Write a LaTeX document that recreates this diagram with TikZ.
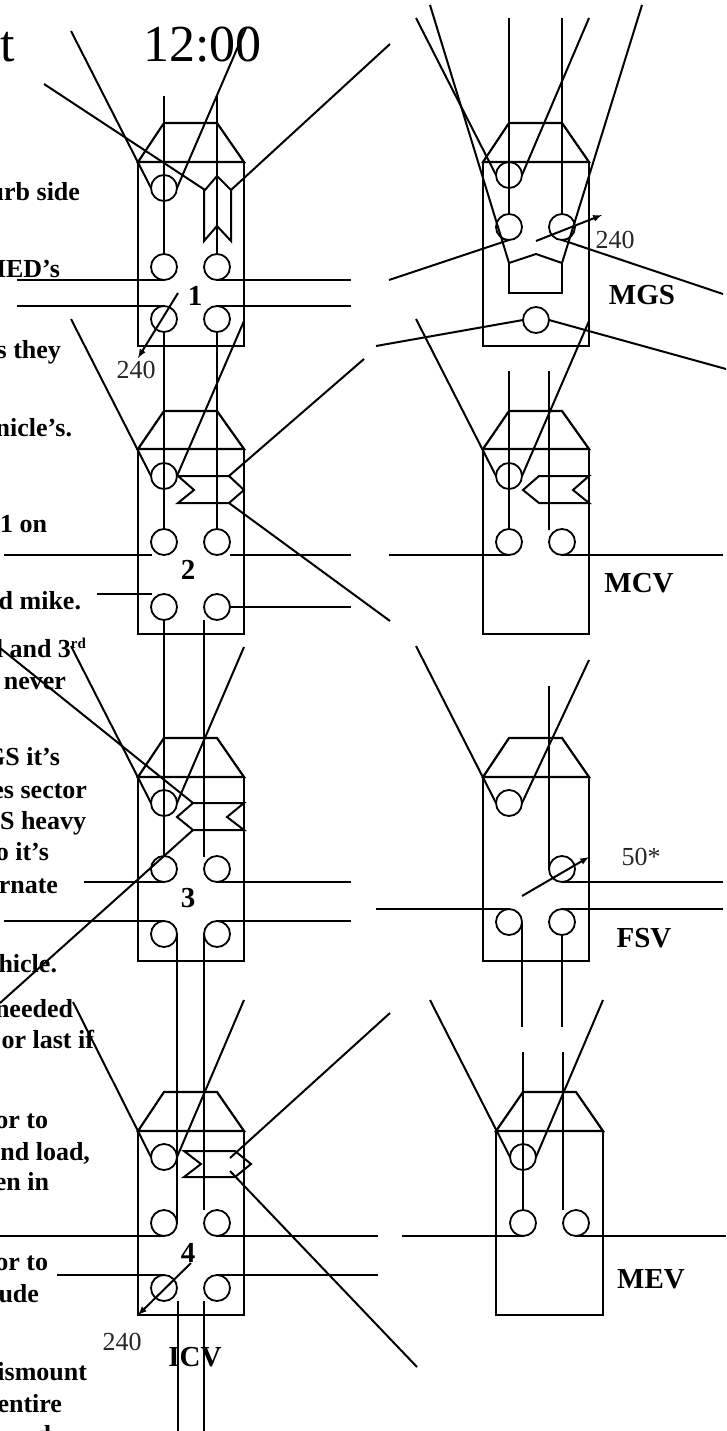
\documentclass[tikz,border=0pt]{standalone}
\usepackage{fontspec}
\setmainfont{Liberation Serif}
\usetikzlibrary{arrows}
\tikzset{
  port/.style={draw, circle, inner sep=0pt, outer sep=0pt, minimum size=26pt, line width=1.8pt},
  hull/.style={line width=2.2pt, line join=miter},
  shot/.style={-latex, line width=2pt},
  notetext/.style={anchor=base east, inner sep=0pt, font=\fontsize{26}{26}\selectfont\bfseries},
  tagtext/.style={inner sep=0pt, font=\fontsize{29}{29}\selectfont\bfseries},
  rangetext/.style={inner sep=0pt, text=black!85, font=\fontsize{26}{26}\selectfont},
  headtext/.style={anchor=base, inner sep=0pt, font=\fontsize{52}{52}\selectfont}
}
\begin{document}
\begin{tikzpicture}[x=1pt,y=-1pt,line width=2pt]
	\useasboundingbox (0,0) rectangle (726,1431);
	\clip (0,0) rectangle (726,1431);
	\node[headtext, anchor=base east] (headleft) at (16,62) {at};
	\node[headtext, anchor=base west] (headtime) at (142,62) {12:00};
	\node[notetext] (note1) at (81,201) {urb side};
	\node[notetext] (note2) at (61,277) {MED’s};
	\node[notetext] (note3) at (62,358) {s they};
	\node[notetext] (note4) at (73,436) {nicle’s.};
	\node[notetext] (note5) at (48,532) {1 on};
	\node[notetext] (note6) at (82,609) {d mike.};
	\node[notetext] (note7) at (87,657) {d and 3\raisebox{9pt}{\fontsize{15}{15}\selectfont rd}};
	\node[notetext] (note8) at (67,689) {never};
	\node[notetext] (note9) at (61,765) {GS it’s};
	\node[notetext] (note10) at (88,798) {es sector};
	\node[notetext] (note11) at (87,829) {GS heavy};
	\node[notetext] (note12) at (50,860) {o it’s};
	\node[notetext] (note13) at (59,893) {rnate};
	\node[notetext] (note14) at (58,972) {vehicle.};
	\node[notetext] (note15) at (74,1017) {needed};
	\node[notetext] (note16) at (95,1048) {or last if};
	\node[notetext] (note17) at (49,1128) {or to};
	\node[notetext] (note18) at (91,1160) {nd load,};
	\node[notetext] (note19) at (50,1190) {en in};
	\node[notetext] (note20) at (49,1270) {or to};
	\node[notetext] (note21) at (40,1302) {ude};
	\node[notetext] (note22) at (88,1380) {ismount};
	\node[notetext] (note23) at (63,1412) {entire};
	\node[notetext] (note24) at (52,1443) {d};

	\draw[hull] (138,162) -- (164,123) -- (217,123) -- (244,162) -- cycle;
	\draw[hull] (138,162) rectangle (244,346);
	\node[port] (c1a) at (164,188) {};
	\node[port] (c1b) at (164,267) {};
	\node[port] (c1c) at (217,267) {};
	\node[port] (c1d) at (164,319) {};
	\node[port] (c1e) at (217,319) {};
	\draw (164,96) -- (c1b.north);
	\draw (217,96) -- (c1c.north);
	\draw (71,31) -- (c1a.west);
	\draw (246,28) -- (c1a.east);
	\draw (44,84) -- (205,190) -- (217,176) -- (231,190) -- (231,241) -- (217,226) -- (204,241) -- (204,190);
	\draw (231,190) -- (390,44);
	\draw (17,280) -- (c1b.south);
	\draw (c1c.south) -- (351,280);
	\draw (17,306) -- (c1d.north);
	\draw (c1e.north) -- (351,306);
	\draw[shot] (178,293) -- (138,358);
	\node[rangetext] (range1) at (136,370) {240};
	\node[tagtext] (num1) at (195,296) {1};

	\draw[hull] (138,449) -- (164,411) -- (217,411) -- (244,449) -- cycle;
	\draw[hull] (138,449) rectangle (244,634);
	\node[port] (c2a) at (164,476) {};
	\node[port] (c2b) at (164,542) {};
	\node[port] (c2c) at (217,542) {};
	\node[port] (c2d) at (164,607) {};
	\node[port] (c2e) at (217,607) {};
	\draw (c1d.south) -- (c2b.north);
	\draw (c1e.south) -- (c2c.north);
	\draw (71,319) -- (c2a.west);
	\draw (244,321) -- (c2a.east);
	\draw (178,476) -- (229,476) -- (244,490) -- (229,503) -- (178,503) -- (194,490) -- cycle;
	\draw (229,476) -- (364,359);
	\draw (229,503) -- (390,621);
	\draw (4,555) -- (152,555);
	\draw (230,555) -- (351,555);
	\draw (97,594) -- (152,594);
	\draw (c2e.east) -- (351,607);
	\node[tagtext] (num2) at (188,570) {2};

	\draw[hull] (138,777) -- (164,738) -- (217,738) -- (244,777) -- cycle;
	\draw[hull] (138,777) rectangle (244,961);
	\node[port] (c3a) at (164,803) {};
	\node[port] (c3b) at (164,869) {};
	\node[port] (c3c) at (217,869) {};
	\node[port] (c3d) at (164,934) {};
	\node[port] (c3e) at (217,934) {};
	\draw (c2d.south) -- (c3b.north);
	\draw (204,620) -- (204,857);
	\draw (71,646) -- (c3a.west);
	\draw (244,647) -- (c3a.east);
	\draw (193,803) -- (244,803) -- (227,817) -- (244,830) -- (193,830) -- (177,817) -- cycle;
	\draw (0,648) -- (193,803);
	\draw (193,830) -- (0,1003);
	\draw (84,882) -- (c3b.south);
	\draw (c3c.south) -- (351,882);
	\draw (4,921) -- (c3d.north);
	\draw (c3e.north) -- (351,921);
	\node[tagtext] (num3) at (188,898) {3};

	\draw[hull] (138,1131) -- (164,1092) -- (217,1092) -- (244,1131) -- cycle;
	\draw[hull] (138,1131) rectangle (244,1315);
	\node[port] (c4a) at (164,1157) {};
	\node[port] (c4b) at (164,1223) {};
	\node[port] (c4c) at (217,1223) {};
	\node[port] (c4d) at (164,1288) {};
	\node[port] (c4e) at (217,1288) {};
	\draw (c3d.east) -- (c4b.east);
	\draw (c3e.west) -- (204,1210);
	\draw (73,1002) -- (c4a.west);
	\draw (244,1000) -- (c4a.east);
	\draw (235,1151) -- (184,1151) -- (201,1164) -- (184,1177) -- (235,1177) -- (251,1164) -- cycle;
	\draw (230,1158) -- (390,1013);
	\draw (230,1171) -- (417,1367);
	\draw (0,1236) -- (c4b.south);
	\draw (c4c.south) -- (378,1236);
	\draw (57,1275) -- (c4d.north);
	\draw (c4e.north) -- (378,1275);
	\draw[shot] (191,1263) -- (138,1315);
	\draw (178,1301) -- (178,1431);
	\draw (204,1301) -- (204,1431);
	\node[rangetext] (range4) at (122,1342) {240};
	\node[tagtext] (num4) at (188,1253) {4};
	\node[tagtext] (icv) at (195,1357) {ICV};

	\draw[hull] (483,162) -- (509,123) -- (562,123) -- (589,162) -- cycle;
	\draw[hull] (483,162) rectangle (589,346);
	\node[port] (g1) at (509,175) {};
	\node[port] (g2) at (509,227) {};
	\node[port] (g3) at (562,227) {};
	\node[port] (g4) at (536,320) {};
	\draw (509,18) -- (g2.north);
	\draw (562,18) -- (562,214);
	\draw (416,18) -- (g1.west);
	\draw (589,18) -- (g1.east);
	\draw (430,5) -- (509,263) -- (536,254) -- (562,263) -- (642,5);
	\draw (509,263) -- (509,293) -- (562,293) -- (562,263);
	\draw (389,280) -- (g2.south);
	\draw (g3.south) -- (723,294);
	\draw[shot] (536,241) -- (602,215);
	\draw (376,346) -- (g4.west);
	\draw (g4.east) -- (726,369);
	\node[rangetext] (range5) at (615,240) {240};
	\node[tagtext] (mgs) at (642,295) {MGS};

	\draw[hull] (483,449) -- (509,411) -- (562,411) -- (589,449) -- cycle;
	\draw[hull] (483,449) rectangle (589,634);
	\node[port] (m1) at (509,476) {};
	\node[port] (m2) at (509,542) {};
	\node[port] (m3) at (562,542) {};
	\draw (509,371) -- (m2.north);
	\draw (549,371) -- (549,530);
	\draw (416,319) -- (m1.west);
	\draw (589,321) -- (m1.east);
	\draw (523,490) -- (539,476) -- (589,476) -- (573,490) -- (589,503) -- (539,503) -- cycle;
	\draw (389,555) -- (m2.south);
	\draw (m3.south) -- (723,555);
	\node[tagtext] (mcv) at (639,583) {MCV};

	\draw[hull] (483,777) -- (509,738) -- (562,738) -- (589,777) -- cycle;
	\draw[hull] (483,777) rectangle (589,961);
	\node[port] (f1) at (509,803) {};
	\node[port] (f2) at (562,869) {};
	\node[port] (f3) at (509,922) {};
	\node[port] (f4) at (562,922) {};
	\draw (549,686) -- (f2.west);
	\draw (416,646) -- (f1.west);
	\draw (589,660) -- (f1.east);
	\draw (f2.south) -- (723,882);
	\draw[shot] (522,896) -- (589,857);
	\draw (376,909) -- (f3.north);
	\draw (f4.north) -- (723,909);
	\draw (f3.east) -- (522,1027);
	\draw (f4.south) -- (562,1027);
	\node[rangetext] (range6) at (641,857) {50*};
	\node[tagtext] (fsv) at (644,938) {FSV};

	\draw[hull] (496,1131) -- (523,1092) -- (576,1092) -- (603,1131) -- cycle;
	\draw[hull] (496,1131) rectangle (603,1315);
	\node[port] (e1) at (523,1157) {};
	\node[port] (e2) at (523,1223) {};
	\node[port] (e3) at (576,1223) {};
	\draw (523,1052) -- (e2.north);
	\draw (563,1052) -- (563,1210);
	\draw (430,1000) -- (e1.west);
	\draw (603,1000) -- (e1.east);
	\draw (402,1236) -- (e2.south);
	\draw (e3.south) -- (726,1236);
	\node[tagtext] (mev) at (651,1279) {MEV};
\end{tikzpicture}
\end{document}
